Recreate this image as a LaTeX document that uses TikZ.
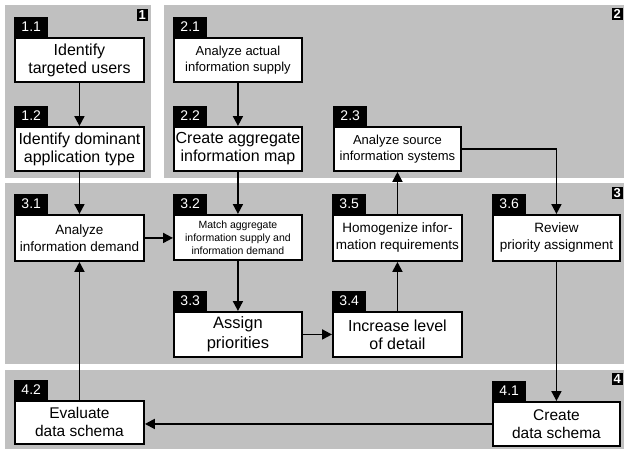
\documentclass[tikz,border=0pt]{standalone}
\usepackage{fontspec}
\setmainfont{Liberation Sans}
\usetikzlibrary{arrows.meta}
\definecolor{panelgray}{RGB}{192,192,192}
\begin{document}
\begin{tikzpicture}[x=1pt,y=-1pt,
  box/.style={draw=black, line width=1.9pt, fill=white, inner sep=0pt,
    align=center, anchor=north west},
  tag/.style={fill=black, text=white, inner sep=0pt, anchor=south west,
    minimum width=34pt, minimum height=20pt, font=\fontsize{14}{14}\selectfont},
  plabel/.style={fill=black, text=white, inner sep=0pt, anchor=north east,
    minimum width=11pt, minimum height=12pt, font=\fontsize{13}{13}\selectfont\bfseries},
  arr/.style={line width=1.9pt, -{Triangle[length=10pt,width=10pt]}},
  fs16/.style={font=\fontsize{16}{18}\selectfont},
  fs13/.style={font=\fontsize{13}{16}\selectfont},
  fs135/.style={font=\fontsize{13.5}{17}\selectfont},
  fs10/.style={font=\fontsize{10.5}{13}\selectfont},
]
\useasboundingbox (0,0) rectangle (624,453);
% panels
\fill[panelgray] (5,5) rectangle (151,178);
\fill[panelgray] (164,5) rectangle (624,178);
\fill[panelgray] (5,183) rectangle (624,364);
\fill[panelgray] (5,370) rectangle (624,449);
\node[plabel] (l1) at (148,9) {1};
\node[plabel] (l2) at (623,8) {2};
\node[plabel] (l3) at (623,187) {3};
\node[plabel] (l4) at (623,373) {4};
% boxes
\node[box, fs16, minimum width=129pt, minimum height=44pt] (b11) at (14,37) {Identify\\targeted users};
\node[box, fs16, minimum width=129pt, minimum height=44pt] (b12) at (14,126) {Identify dominant\\application type};
\node[box, fs13, minimum width=128pt, minimum height=44pt] (b21) at (173,37) {Analyze actual\\information supply};
\node[box, fs16, minimum width=128pt, minimum height=44pt] (b22) at (173,126) {Create aggregate\\information map};
\node[box, fs13, minimum width=127pt, minimum height=44pt] (b23) at (333,126) {Analyze source\\information systems};
\node[box, fs135, minimum width=129pt, minimum height=46pt] (b31) at (14,214) {Analyze\\information demand};
\node[box, fs10, minimum width=128pt, minimum height=45pt] (b32) at (173,214) {Match aggregate\\information supply and\\information demand};
\node[box, font=\fontsize{16.5}{19.5}\selectfont, minimum width=128pt, minimum height=45pt] (b33) at (173,311) {Assign\\priorities};
\node[box, fs16, minimum width=129pt, minimum height=45pt] (b34) at (332,311) {Increase level\\of detail};
\node[box, fs135, minimum width=129pt, minimum height=46pt] (b35) at (332,214) {Homogenize infor-\\mation requirements};
\node[box, fs135, minimum width=127pt, minimum height=46pt] (b36) at (492,214) {Review\\priority assignment};
\node[box, font=\fontsize{15.5}{18}\selectfont, minimum width=127pt, minimum height=44pt] (b41) at (492,401) {Create\\data schema};
\node[box, font=\fontsize{15.5}{18}\selectfont, minimum width=129pt, minimum height=43pt] (b42) at (14,400) {Evaluate\\data schema};
% tags
\node[tag] (t11) at (b11.north west) {1.1};
\node[tag] (t12) at (b12.north west) {1.2};
\node[tag] (t21) at (b21.north west) {2.1};
\node[tag] (t22) at (b22.north west) {2.2};
\node[tag] (t23) at (b23.north west) {2.3};
\node[tag] (t31) at (b31.north west) {3.1};
\node[tag] (t32) at (b32.north west) {3.2};
\node[tag] (t33) at (b33.north west) {3.3};
\node[tag] (t34) at (b34.north west) {3.4};
\node[tag] (t35) at (b35.north west) {3.5};
\node[tag] (t36) at (b36.north west) {3.6};
\node[tag] (t41) at (b41.north west) {4.1};
\node[tag] (t42) at (b42.north west) {4.2};
% connectors
\draw[arr] (b11.south) -- (b12.north);
\draw[arr] (b12.south) -- (b31.north);
\draw[arr] (b21.south) -- (b22.north);
\draw[arr] (b22.south) -- (b32.north);
\draw[arr] (b31.east) -- (b31.east -| b32.west);
\draw[arr] (b32.south) -- (b33.north);
\draw[arr] (b33.east) -- (b33.east -| b34.west);
\draw[arr] (b34.north) -- (b35.south);
\draw[arr] (b35.north) -- (b35.north |- b23.south);
\draw[arr] (b23.east) -| (b36.north);
\draw[arr] (b36.south) -- (b41.north);
\draw[arr] (b41.west) -- (b41.west -| b42.east);
\draw[arr] (b42.north) -- (b31.south);
\end{tikzpicture}
\end{document}
